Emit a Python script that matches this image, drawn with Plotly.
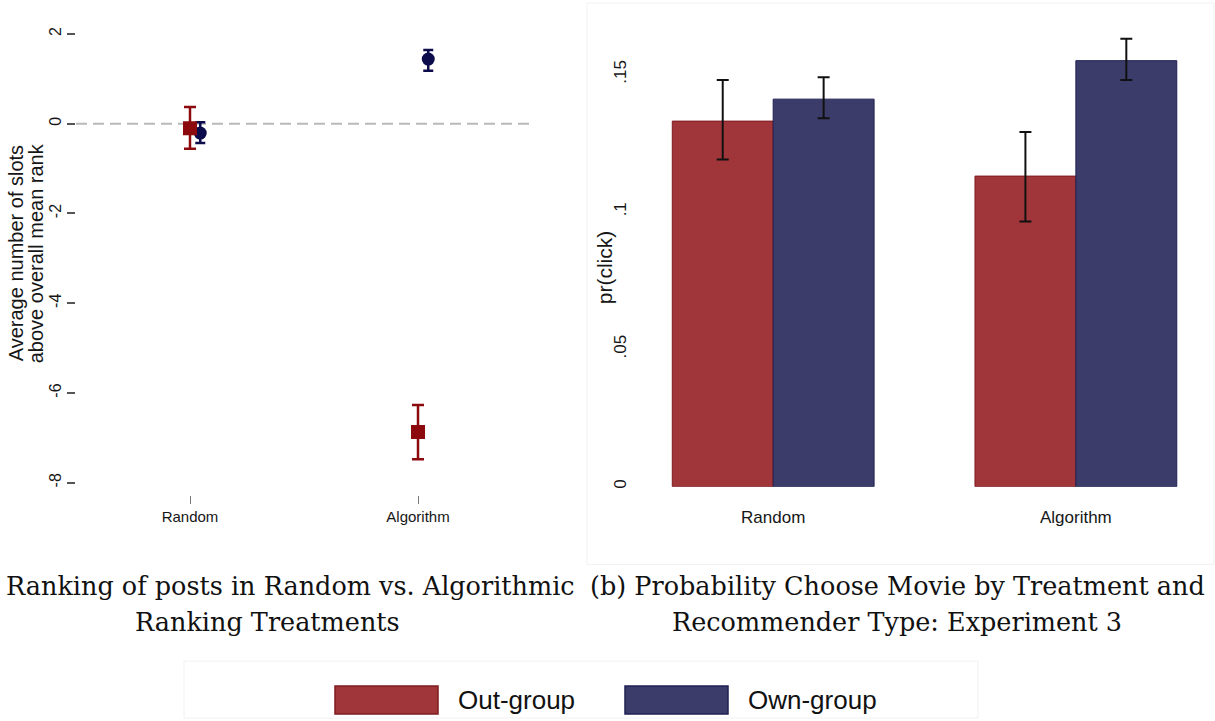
import plotly.graph_objects as go

# ---- Panel (a): rank of posts relative to the overall mean rank ----
rank_categories = ["Random", "Algorithm"]
outgroup_rank = [-0.10, -6.87]
outgroup_rank_lo = [-0.56, -7.48]
outgroup_rank_hi = [0.37, -6.27]
owngroup_rank = [-0.21, 1.44]
owngroup_rank_lo = [-0.43, 1.18]
owngroup_rank_hi = [0.03, 1.64]
rank_ticks = [2, 0, -2, -4, -6, -8]

# ---- Panel (b): probability of clicking a movie ----
click_categories = ["Random", "Algorithm"]
outgroup_click = [0.133, 0.113]
outgroup_click_lo = [0.119, 0.0965]
outgroup_click_hi = [0.148, 0.129]
owngroup_click = [0.141, 0.155]
owngroup_click_lo = [0.134, 0.148]
owngroup_click_hi = [0.149, 0.163]
click_tickvals = [0, 0.05, 0.10, 0.15]
click_ticktext = ["0", ".05", ".1", ".15"]

series_names = ["Out-group", "Own-group"]

W, H = 1215, 721
SANS = "Liberation Sans, Arial, Helvetica, sans-serif"
SERIF = "DejaVu Serif, Liberation Serif, serif"
RED_PT, NAVY_PT = "#8c0a0e", "#0c0c4c"
RED_BAR, NAVY_BAR = "#a0353a", "#3b3c69"
RED_EDGE, NAVY_EDGE = "#7e1b21", "#1f2052"
TXT = "#161616"


def px(x):
    return x / W


def py(y):
    return 1 - y / H


def err(vals, lo, hi):
    up = [h - v for v, h in zip(vals, hi)]
    down = [v - l for v, l in zip(vals, lo)]
    return up, down


fig = go.Figure()

# Panel (a): point estimates with confidence intervals
pos = list(range(1, len(rank_categories) + 1))
shift = 0.045
up, down = err(owngroup_rank, owngroup_rank_lo, owngroup_rank_hi)
fig.add_trace(go.Scatter(
    x=[p + shift for p in pos], y=owngroup_rank, mode="markers",
    name=series_names[1], showlegend=False,
    marker=dict(symbol="circle", size=13, color=NAVY_PT),
    error_y=dict(type="data", array=up, arrayminus=down, color=NAVY_PT,
                 thickness=2.5, width=5),
    xaxis="x", yaxis="y"))
up, down = err(outgroup_rank, outgroup_rank_lo, outgroup_rank_hi)
fig.add_trace(go.Scatter(
    x=pos, y=outgroup_rank, mode="markers",
    name=series_names[0], showlegend=False,
    marker=dict(symbol="square", size=14, color=RED_PT),
    error_y=dict(type="data", array=up, arrayminus=down, color=RED_PT,
                 thickness=2.5, width=6),
    xaxis="x", yaxis="y"))

# Panel (b): grouped bars
for name, vals, lo, hi, fill, edge in [
    (series_names[0], outgroup_click, outgroup_click_lo, outgroup_click_hi, RED_BAR, RED_EDGE),
    (series_names[1], owngroup_click, owngroup_click_lo, owngroup_click_hi, NAVY_BAR, NAVY_EDGE),
]:
    up, down = err(vals, lo, hi)
    fig.add_trace(go.Bar(
        x=click_categories, y=vals, name=name, showlegend=False,
        marker=dict(color=fill, line=dict(color=edge, width=1)),
        error_y=dict(type="data", array=up, arrayminus=down, color="#111111",
                     thickness=2, width=6),
        xaxis="x2", yaxis="y2"))

y0_top, y0_bot = 23, 496
ppu = 45.0
zero_px = 124
fig.update_layout(
    width=W, height=H,
    margin=dict(l=0, r=0, t=0, b=0),
    paper_bgcolor="white", plot_bgcolor="white",
    showlegend=False,
    barmode="group", bargap=1 / 3, bargroupgap=0,
    xaxis=dict(
        domain=[px(76), px(532)], range=[0.5, 2.5], anchor="y",
        tickvals=pos, ticktext=rank_categories,
        ticks="outside", ticklen=8, tickwidth=1, tickcolor="#777777",
        tickfont=dict(family=SANS, size=15, color=TXT),
        showgrid=False, zeroline=False, showline=False),
    yaxis=dict(
        domain=[py(y0_bot), py(y0_top)],
        range=[-(y0_bot - zero_px) / ppu, (zero_px - y0_top) / ppu], anchor="x",
        tickvals=rank_ticks, ticktext=[str(t) for t in rank_ticks],
        ticks="outside", ticklen=8, tickwidth=1.5, tickcolor="#555555",
        tickangle=-90, ticklabelstandoff=0,
        tickfont=dict(family=SANS, size=16, color=TXT),
        showgrid=False, zeroline=False, showline=False),
    xaxis2=dict(
        domain=[px(640), px(1203)], range=[-0.44, 1.42], anchor="y2",
        ticks="", ticklabelstandoff=18,
        tickfont=dict(family=SANS, size=17, color=TXT),
        showgrid=False, zeroline=False, showline=False),
    yaxis2=dict(
        domain=[py(488), py(25)], range=[0, 0.168], anchor="x2",
        tickvals=click_tickvals, ticktext=click_ticktext,
        ticks="", tickangle=-90, ticklabelstandoff=10,
        tickfont=dict(family=SANS, size=17, color=TXT),
        showgrid=False, zeroline=False, showline=False),
)

shapes = [
    # reference line at zero rank difference
    dict(type="line", xref="x", yref="y", x0=0.5, x1=2.5, y0=0, y1=0,
         line=dict(color="#b9b9b9", width=2, dash="11px,6px"), layer="below"),
    # faint frames around the right image and the legend
    dict(type="rect", xref="paper", yref="paper", x0=px(587), x1=px(1214),
         y0=py(566), y1=py(3), line=dict(color="#f1f1f1", width=1)),
    dict(type="rect", xref="paper", yref="paper", x0=px(184), x1=px(978),
         y0=py(720), y1=py(663), line=dict(color="#f1f1f1", width=1)),
]

# legend swatches
legend_boxes = [(335, 438), (625, 728)]
for (x0, x1), fill, edge in zip(legend_boxes, [RED_BAR, NAVY_BAR], [RED_EDGE, NAVY_EDGE]):
    shapes.append(dict(type="rect", xref="paper", yref="paper",
                       x0=px(x0), x1=px(x1), y0=py(716), y1=py(688),
                       fillcolor=fill, line=dict(color=edge, width=1.5)))
fig.update_layout(shapes=shapes)

annotations = [
    dict(text="Average number of slots", x=px(16), y=py(254), textangle=-90,
         font=dict(family=SANS, size=20, color=TXT)),
    dict(text="above overall mean rank", x=px(36), y=py(254), textangle=-90,
         font=dict(family=SANS, size=20, color=TXT)),
    dict(text="pr(click)", x=px(604), y=py(268), textangle=-90,
         font=dict(family=SANS, size=21, color=TXT)),
    dict(text="Ranking of posts in Random vs. Algorithmic", x=px(577), y=py(588),
         xanchor="right", font=dict(family=SERIF, size=25.5, color="#111111")),
    dict(text="Ranking Treatments", x=px(267), y=py(624),
         font=dict(family=SERIF, size=25.5, color="#111111")),
    dict(text="(b) Probability Choose Movie by Treatment and", x=px(897), y=py(588),
         font=dict(family=SERIF, size=25.5, color="#111111")),
    dict(text="Recommender Type: Experiment 3", x=px(897), y=py(624),
         font=dict(family=SERIF, size=25.5, color="#111111")),
]
for (x0, x1), name in zip(legend_boxes, series_names):
    annotations.append(dict(text=name, x=px(x1 + 18), y=py(702), xanchor="left",
                            font=dict(family=SANS, size=26, color="#111111")))
for a in annotations:
    a.setdefault("xref", "paper")
    a.setdefault("yref", "paper")
    a.setdefault("showarrow", False)
    a.setdefault("yanchor", "middle")
    a.setdefault("xanchor", "center")
fig.update_layout(annotations=annotations)

fig.write_html("out.html")
